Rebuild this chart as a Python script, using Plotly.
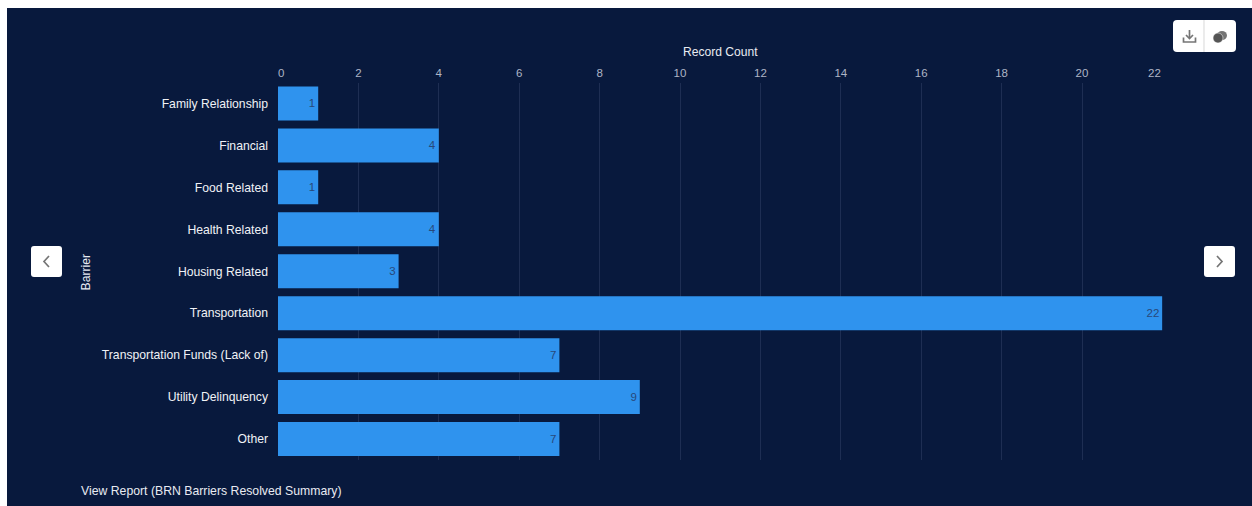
import plotly.graph_objects as go

categories = ["Family Relationship", "Financial", "Food Related", "Health Related", "Housing Related",
              "Transportation", "Transportation Funds (Lack of)", "Utility Delinquency", "Other"]
record_counts = [1, 4, 1, 4, 3, 22, 7, 9, 7]
x_ticks = list(range(0, 23, 2))
x_tick_labels = [str(t) for t in x_ticks]
x_tick_labels[0] = "\u00a0\u00a0" + x_tick_labels[0]
x_tick_labels[-1] = x_tick_labels[-1] + "\u00a0" * 5

W, H = 1252, 506
BG = "#08193d"
BAR = "#2f93ee"
FONT = "Liberation Sans, Arial, sans-serif"

def px(x):
    return x / W

def py(y):
    return 1 - y / H

def path(points, close=False):
    s = "M" + " L".join(f"{px(x):.5f},{py(y):.5f}" for x, y in points)
    return s + (" Z" if close else "")

def rounded(x0, y0, x1, y1, r):
    return (f"M{px(x0+r):.5f},{py(y0):.5f} L{px(x1-r):.5f},{py(y0):.5f} "
            f"Q{px(x1):.5f},{py(y0):.5f} {px(x1):.5f},{py(y0+r):.5f} "
            f"L{px(x1):.5f},{py(y1-r):.5f} Q{px(x1):.5f},{py(y1):.5f} {px(x1-r):.5f},{py(y1):.5f} "
            f"L{px(x0+r):.5f},{py(y1):.5f} Q{px(x0):.5f},{py(y1):.5f} {px(x0):.5f},{py(y1-r):.5f} "
            f"L{px(x0):.5f},{py(y0+r):.5f} Q{px(x0):.5f},{py(y0):.5f} {px(x0+r):.5f},{py(y0):.5f} Z")

def sh(d, fill="rgba(0,0,0,0)", line=None, width=1.5, layer="above"):
    return dict(type="path", xref="paper", yref="paper", path=d, fillcolor=fill, layer=layer,
                line=dict(color=line or "rgba(0,0,0,0)", width=width if line else 0))

GREY = "#757575"
shapes = [
    dict(type="rect", xref="paper", yref="paper", x0=px(7), x1=1, y0=0, y1=py(8),
         fillcolor=BG, line=dict(width=0), layer="below"),
    sh(rounded(1173, 20, 1236, 52, 4), "#ffffff"),
    sh(path([(1204, 20), (1204, 52)]), line="#d8d8d8", width=1),
    sh(rounded(31, 246, 62, 277, 3), "#ffffff"),
    sh(rounded(1204, 246, 1235, 277, 3), "#ffffff"),
    sh(path([(49, 256), (44, 261.5), (49, 267)]), line=GREY, width=1.7),
    sh(path([(1217, 256), (1222, 261.5), (1217, 267)]), line=GREY, width=1.7),
    # download icon
    sh(path([(1189.5, 30), (1189.5, 38)]), line=GREY, width=1.7),
    sh(path([(1186, 35), (1189.5, 38.5), (1193, 35)]), line=GREY, width=1.7),
    sh(path([(1183.5, 37.5), (1183.5, 42), (1195.5, 42), (1195.5, 37.5)]), line=GREY, width=1.7),
    # chart-type icon
    dict(type="circle", xref="paper", yref="paper", x0=px(1217), x1=px(1227), y0=py(40), y1=py(31),
         fillcolor=GREY, line=dict(width=0), layer="above"),
    dict(type="circle", xref="paper", yref="paper", x0=px(1213), x1=px(1223), y0=py(43), y1=py(33),
         fillcolor="#555555", line=dict(color="#ffffff", width=0.5), layer="above"),
]

annotations = [
    dict(text="Record Count", x=px(720.5), y=py(52.5), xref="paper", yref="paper", showarrow=False,
         font=dict(family=FONT, size=12.1, color="#e8ebf2"), xanchor="center", yanchor="middle"),
    dict(text="Barrier", x=px(85), y=py(271.5), xref="paper", yref="paper", showarrow=False, textangle=-90,
         font=dict(family=FONT, size=12.2, color="#e8ebf2"), xanchor="center", yanchor="middle"),
    dict(text="View Report (BRN Barriers Resolved Summary)", x=px(79), y=py(490.5), xref="paper", yref="paper",
         showarrow=False, font=dict(family=FONT, size=12.25, color="#e8ebf2"), xanchor="left", yanchor="middle"),
]

fig = go.Figure(go.Bar(
    x=record_counts, y=categories, orientation="h",
    marker=dict(color=BAR, line=dict(width=0)),
    text=record_counts, textposition="inside", insidetextanchor="end", textangle=0,
    textfont=dict(family=FONT, size=11.5, color="#28487a"),
    cliponaxis=False, hoverinfo="x+y",
))

fig.update_layout(
    width=W, height=H, margin=dict(l=0, r=0, t=0, b=0, pad=0),
    paper_bgcolor="#ffffff", plot_bgcolor="rgba(0,0,0,0)",
    showlegend=False, bargap=0.19,
    shapes=shapes, annotations=annotations,
    font=dict(family=FONT),
    xaxis=dict(side="top", domain=[px(278), px(1162.4)], range=[0, 22], anchor="y",
               tickmode="array", tickvals=x_ticks, ticktext=x_tick_labels, showline=False, zeroline=False,
               showgrid=True, gridcolor="#1e2e53", gridwidth=1, ticks="", ticklabelstandoff=2,
               ticklabeloverflow="allow",
               tickfont=dict(family=FONT, size=11.5, color="#aeb5c6"), automargin=False),
    yaxis=dict(domain=[py(460), py(82.5)], autorange="reversed", type="category", categoryorder="array",
               categoryarray=categories, anchor="x", showgrid=False, zeroline=False, showline=False,
               ticks="", ticklabelstandoff=9, automargin=False,
               tickfont=dict(family=FONT, size=12.2, color="#f0f2f6")),
)

fig.write_html("out.html", config=dict(displayModeBar=False),
               post_script="document.body.style.margin='0';document.body.style.overflow='hidden';")
